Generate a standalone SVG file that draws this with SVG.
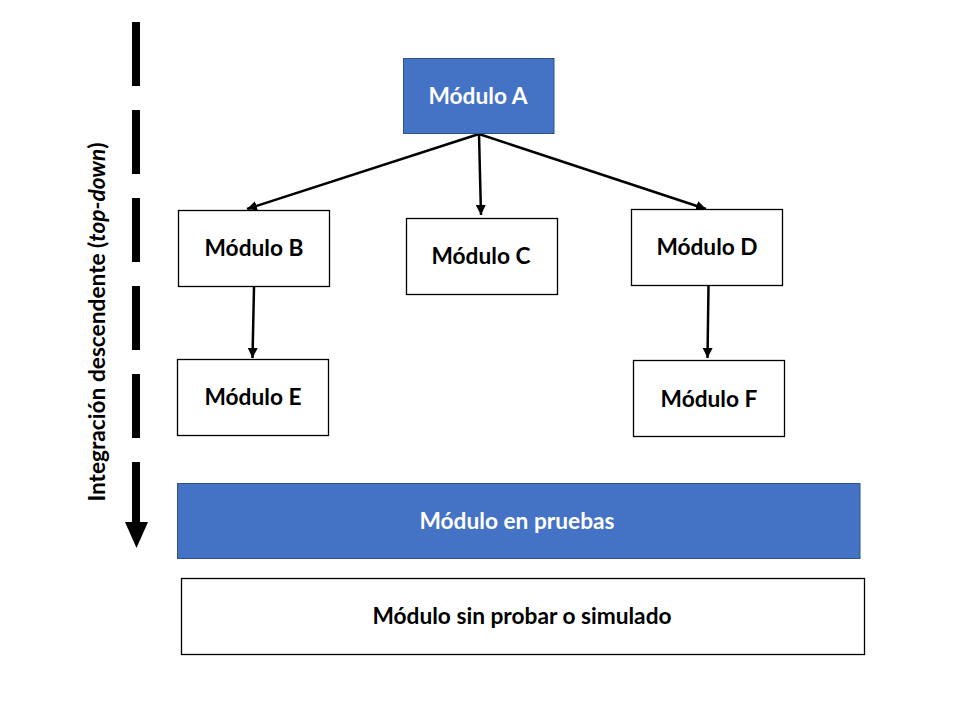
<svg xmlns="http://www.w3.org/2000/svg" width="960" height="720" viewBox="0 0 960 720">
  <defs>
    <marker id="ah" viewBox="0 0 10 10" refX="10" refY="5" markerWidth="4" markerHeight="4" markerUnits="strokeWidth" orient="auto">
      <path d="M0,0 L10,5 L0,10 Z" fill="#000"/>
    </marker>
    <style>
      .lbl { font-family: Lato, "Open Sans", "Liberation Sans", sans-serif; font-weight: bold; font-size: 22.7px; text-anchor: middle; }
      .blue { fill: #4472C4; stroke: #2F528F; stroke-width: 1; }
      .white { fill: #FFFFFF; stroke: #000000; stroke-width: 1.3; }
      .wt { fill: #FFFFFF; }
      .bt { fill: #000000; }
      .conn { stroke: #000; stroke-width: 2.5; fill: none; marker-end: url(#ah); }
    </style>
  </defs>
  <rect width="960" height="720" fill="#FFFFFF"/>

  <g id="axis">
    <line x1="136" y1="22" x2="136" y2="522" stroke="#000" stroke-width="8" stroke-dasharray="64 24"/>
    <polygon points="125,522 148,522 136.5,548" fill="#000"/>
    <text class="lbl bt" transform="translate(104.5,322) rotate(-90)">Integración descendente (<tspan font-style="italic">top-down</tspan>)</text>
  </g>

  <g id="connectors">
    <line class="conn" x1="479" y1="134" x2="247" y2="209"/>
    <line class="conn" x1="479" y1="134" x2="481" y2="215"/>
    <line class="conn" x1="479" y1="134" x2="706" y2="209"/>
    <line class="conn" x1="254" y1="287" x2="252.5" y2="358"/>
    <line class="conn" x1="708.5" y1="286" x2="707.5" y2="358"/>
  </g>

  <g id="modA">
    <rect class="blue" x="403.5" y="58.5" width="150.5" height="75"/>
    <text class="lbl wt" x="478" y="104">Módulo A</text>
  </g>
  <g id="modB">
    <rect class="white" x="178.5" y="210.5" width="151" height="76"/>
    <text class="lbl bt" x="254" y="256">Módulo B</text>
  </g>
  <g id="modC">
    <rect class="white" x="406.5" y="218.5" width="151" height="76"/>
    <text class="lbl bt" x="481" y="264">Módulo C</text>
  </g>
  <g id="modD">
    <rect class="white" x="631.5" y="209.5" width="151" height="76"/>
    <text class="lbl bt" x="707" y="255">Módulo D</text>
  </g>
  <g id="modE">
    <rect class="white" x="177.5" y="359.5" width="151" height="76"/>
    <text class="lbl bt" x="253" y="405">Módulo E</text>
  </g>
  <g id="modF">
    <rect class="white" x="633.5" y="360.5" width="151" height="76"/>
    <text class="lbl bt" x="709" y="407">Módulo F</text>
  </g>
  <g id="legendTest">
    <rect class="blue" x="177.5" y="483.5" width="682.5" height="75"/>
    <text class="lbl wt" x="517" y="529">Módulo en pruebas</text>
  </g>
  <g id="legendStub">
    <rect class="white" x="181.5" y="578.5" width="683" height="76"/>
    <text class="lbl bt" x="522" y="624">Módulo sin probar o simulado</text>
  </g>
</svg>
